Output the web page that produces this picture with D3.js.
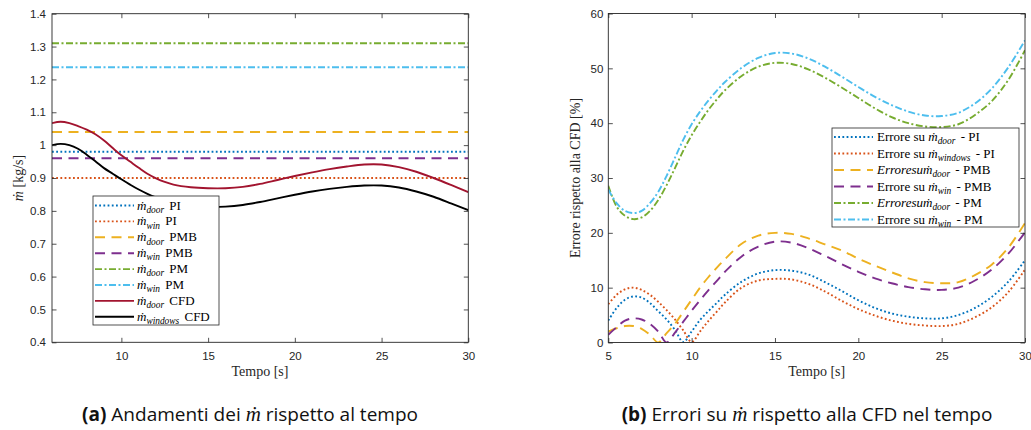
<!DOCTYPE html>
<html>
<head>
<meta charset="utf-8">
<script src="https://cdn.jsdelivr.net/npm/d3@7"></script>
<style>
  html, body { margin: 0; padding: 0; background: #fff; }
  svg { display: block; }
  text { white-space: pre; }
</style>
</head>
<body>
<svg id="fig" width="1031" height="430"></svg>
<script>
// ---------- panel (a): mass flow rates [kg/s] over time [s] ----------
const tFlow = [6, 6.5, 7, 7.5, 8, 8.5, 9, 9.5, 10, 10.5, 11, 11.5, 12, 12.5, 13, 14, 15,
               16, 17, 18, 19, 20, 21, 22, 23, 24, 25, 26, 27, 28, 29, 30];
const mDoorCFD = [1.067, 1.071, 1.067, 1.058, 1.047, 1.033, 1.014, 0.991, 0.969, 0.950, 0.931,
                  0.913, 0.899, 0.888, 0.880, 0.872, 0.869, 0.869, 0.873, 0.882, 0.894, 0.906,
                  0.917, 0.927, 0.935, 0.941, 0.941, 0.933, 0.919, 0.900, 0.879, 0.857];
const mWinCFD = [1.000, 1.004, 1.000, 0.989, 0.971, 0.951, 0.930, 0.913, 0.896, 0.880, 0.865,
                 0.852, 0.841, 0.832, 0.825, 0.816, 0.812, 0.813, 0.818, 0.827, 0.838, 0.849,
                 0.859, 0.867, 0.873, 0.877, 0.877, 0.871, 0.859, 0.843, 0.823, 0.802];
// constant model predictions
const mDoorPI = 0.98, mWinPI = 0.90;
const mDoorPMB = 1.04, mWinPMB = 0.96;
const mDoorPM = 1.31, mWinPM = 1.237;
const flowTicksX = [10, 15, 20, 25, 30];
const flowTicksY = [0.4, 0.5, 0.6, 0.7, 0.8, 0.9, 1, 1.1, 1.2, 1.3, 1.4];

// ---------- panel (b): relative error vs CFD [%] over time [s] ----------
const tErr = [5, 5.5, 6, 6.5, 7, 7.5, 8, 8.5, 9, 9.5, 10, 10.5, 11, 11.5, 12, 13, 14, 15,
              16, 17, 18, 19, 20, 21, 22, 23, 24, 25, 26, 27, 28, 29, 30];
const errDoorPI = [4.0, 6.3, 7.8, 8.4, 8.2, 7.2, 5.7, 4.2, 2.3, 0.1, 2.0, 4.1, 5.7, 7.2, 8.7,
                   11.1, 12.6, 13.2, 13.1, 12.4, 11.0, 9.4, 7.7, 6.3, 5.3, 4.7, 4.4, 4.4, 5.0,
                   6.3, 8.3, 11.1, 15.0];
const errWinPI = [7.0, 8.7, 9.7, 10.0, 9.6, 8.7, 7.4, 5.9, 4.2, 2.2, 0.1, 2.0, 3.9, 5.6, 7.3,
                  10.0, 11.3, 11.6, 11.5, 10.7, 9.3, 7.6, 6.1, 4.9, 4.0, 3.4, 3.1, 3.0, 3.4,
                  4.6, 6.4, 9.2, 13.3];
const errDoorPMB = [2.0, 2.6, 3.0, 3.0, 2.5, 1.4, 0.0, 1.7, 3.4, 5.6, 7.8, 10.0, 11.9, 13.6,
                    15.2, 18.0, 19.5, 20.0, 19.8, 19.0, 17.9, 16.8, 15.3, 14.0, 12.8, 11.7,
                    11.0, 10.8, 11.0, 12.3, 14.2, 17.3, 21.8];
const errWinPMB = [1.4, 2.8, 4.0, 4.4, 4.2, 3.4, 2.0, 0.0, 1.8, 3.8, 5.8, 7.7, 9.5, 11.2, 12.9,
                   15.7, 17.5, 18.4, 18.2, 17.2, 15.8, 14.3, 12.9, 11.7, 10.8, 10.1, 9.7, 9.6,
                   10.0, 11.3, 13.3, 16.2, 20.1];
const errDoorPM = [28.6, 24.8, 23.1, 22.5, 22.8, 24.0, 26.0, 28.7, 31.8, 35.0, 37.8, 40.2, 42.4,
                   44.3, 46.0, 48.6, 50.3, 51.0, 50.8, 49.8, 48.3, 46.5, 44.6, 42.7, 41.1, 40.0,
                   39.4, 39.3, 39.8, 41.5, 44.0, 47.9, 53.3];
const errWinPM = [27.9, 25.4, 24.0, 23.6, 24.0, 25.4, 27.5, 30.4, 33.7, 37.0, 39.8, 42.1, 44.1,
                  45.9, 47.5, 50.1, 51.9, 52.8, 52.7, 51.8, 50.3, 48.5, 46.6, 44.8, 43.3, 42.1,
                  41.4, 41.3, 41.9, 43.6, 46.3, 50.2, 55.1];
const errTicksX = [5, 10, 15, 20, 25, 30];
const errTicksY = [0, 10, 20, 30, 40, 50, 60];

// ---------- legend labels (math parts: dotted m, subscripts) ----------
const M = { t: "\u1E41", i: true };
const sub = s => ({ t: s, i: true, sub: true });
const flowLabels = [
  [M, sub("door"), { t: " PI" }],
  [M, sub("win"), { t: " PI" }],
  [M, sub("door"), { t: " PMB" }],
  [M, sub("win"), { t: " PMB" }],
  [M, sub("door"), { t: " PM" }],
  [M, sub("win"), { t: " PM" }],
  [M, sub("door"), { t: " CFD" }],
  [M, sub("windows"), { t: " CFD" }]
];
const errLabels = [
  [{ t: "Errore su " }, M, sub("door"), { t: " - PI" }],
  [{ t: "Errore su " }, M, sub("windows"), { t: " - PI" }],
  [{ t: "Erroresu", i: true }, M, sub("door"), { t: " - PMB" }],
  [{ t: "Errore su " }, M, sub("win"), { t: " - PMB" }],
  [{ t: "Erroresu", i: true }, M, sub("door"), { t: " - PM" }],
  [{ t: "Errore su " }, M, sub("win"), { t: " - PM" }]
];

// ---------- styles ----------
const C = { blue: "#0072BD", orange: "#D95319", yellow: "#EDB120", purple: "#7E2F8E",
            green: "#77AC30", cyan: "#4DBEEE", red: "#A2142F", black: "#000000" };
const DOT = "1.8,2.4", DASH = "10,6.5", DASHDOT = "7,2.5,2,2.5";
const LW = 1.9;
const AX = "#262626";
const SERIF = "'Liberation Serif','DejaVu Serif',serif";
const SANS = "'Liberation Sans',Arial,sans-serif";
const CAPTION = "'Open Sans','Noto Sans',sans-serif";

const svg = d3.select("#fig");

function drawFrame(g, x, y, ticksX, ticksY, fmtY, padY) {
  const [x0, x1] = x.range(), [y0, y1] = y.range();
  const styleAxis = a => {
    a.select(".domain").remove();
    a.selectAll(".tick line").attr("stroke", AX).attr("stroke-width", 0.8);
    a.selectAll(".tick text").attr("fill", AX).attr("font-family", SANS).attr("font-size", 11.5);
  };
  g.append("g").attr("transform", `translate(0,${y0})`)
    .call(d3.axisBottom(x).tickValues(ticksX).tickSize(-4.5).tickPadding(9.5).tickFormat(d3.format("d")))
    .call(styleAxis);
  g.append("g").attr("transform", `translate(0,${y1})`)
    .call(d3.axisTop(x).tickValues(ticksX).tickSize(-4.5).tickFormat(""))
    .call(styleAxis);
  g.append("g").attr("transform", `translate(${x0},0)`)
    .call(d3.axisLeft(y).tickValues(ticksY).tickSize(-4.5).tickPadding(padY).tickFormat(fmtY))
    .call(styleAxis);
  g.append("g").attr("transform", `translate(${x1},0)`)
    .call(d3.axisRight(y).tickValues(ticksY).tickSize(-4.5).tickFormat(""))
    .call(styleAxis);
  g.append("rect")
    .attr("x", x0).attr("y", y1).attr("width", x1 - x0).attr("height", y0 - y1)
    .attr("fill", "none").attr("stroke", AX).attr("stroke-width", 0.9);
}

// subscripted math runs, with a small TeX-like gap after a subscript
function mathText(sel, parts, size, subSize) {
  let shift = 0;
  parts.forEach(p => {
    const ts = sel.append("tspan").text(p.t);
    if (p.i) ts.attr("font-style", "italic");
    const target = p.sub ? 3.2 : 0;
    if (target !== shift) {
      ts.attr("dy", target - shift);
      if (!p.sub) ts.attr("dx", 2);
      shift = target;
    }
    if (p.sub) ts.attr("font-size", subSize);
  });
}

function drawLegend(g, items, box, rowY, rowH, lineX0, lineX1, textX, fs, fsSub) {
  const lg = g.append("g");
  lg.append("rect").attr("x", box.x).attr("y", box.y).attr("width", box.w).attr("height", box.h)
    .attr("fill", "#fff").attr("stroke", AX).attr("stroke-width", 0.8);
  items.forEach((it, i) => {
    const yy = rowY + i * rowH;
    lg.append("line").attr("x1", lineX0).attr("x2", lineX1).attr("y1", yy).attr("y2", yy)
      .attr("stroke", it.color).attr("stroke-width", LW).attr("stroke-dasharray", it.dash);
    const t = lg.append("text").attr("x", textX).attr("y", yy + 4)
      .attr("font-family", SERIF).attr("font-size", fs).attr("fill", "#000");
    mathText(t, it.label, fs, fsSub);
  });
}

// ================= panel (a) =================
const xF = d3.scaleLinear().domain([6, 30]).range([52, 468.3]);
const yF = d3.scaleLinear().domain([0.4, 1.4]).range([342.3, 13.7]);
const gA = svg.append("g");
gA.append("clipPath").attr("id", "clipA").append("rect")
  .attr("x", 52).attr("y", 13.7).attr("width", 416.3).attr("height", 328.6);

const tSpanF = d3.extent(tFlow);
const flowSeries = [
  { vals: tSpanF.map(t => [t, mDoorPI]), color: C.blue, dash: DOT },
  { vals: tSpanF.map(t => [t, mWinPI]), color: C.orange, dash: DOT },
  { vals: tSpanF.map(t => [t, mDoorPMB]), color: C.yellow, dash: DASH },
  { vals: tSpanF.map(t => [t, mWinPMB]), color: C.purple, dash: DASH },
  { vals: tSpanF.map(t => [t, mDoorPM]), color: C.green, dash: DASHDOT },
  { vals: tSpanF.map(t => [t, mWinPM]), color: C.cyan, dash: DASHDOT },
  { vals: tFlow.map((t, i) => [t, mDoorCFD[i]]), color: C.red, dash: null },
  { vals: tFlow.map((t, i) => [t, mWinCFD[i]]), color: C.black, dash: null }
];
flowSeries.forEach((s, i) => s.label = flowLabels[i]);

const lineF = d3.line().x(d => xF(d[0])).y(d => yF(d[1])).curve(d3.curveCatmullRom.alpha(0.5));
const plotA = gA.append("g").attr("clip-path", "url(#clipA)");
flowSeries.forEach(s => {
  plotA.append("path").attr("d", lineF(s.vals)).attr("fill", "none")
    .attr("stroke", s.color).attr("stroke-width", LW).attr("stroke-dasharray", s.dash);
});
drawFrame(gA, xF, yF, flowTicksX, flowTicksY, d => String(d), 6);
drawLegend(gA, flowSeries, { x: 93, y: 196, w: 126, h: 129 }, 205.5, 15.9, 95, 134, 137, 13, 9.4);

// axis titles (a)
gA.append("text").attr("x", 260).attr("y", 376).attr("text-anchor", "middle")
  .attr("font-family", SERIF).attr("font-size", 14).attr("fill", AX).text("Tempo [s]");
const yTitleA = gA.append("text").attr("transform", "translate(23,178) rotate(-90)")
  .attr("text-anchor", "middle").attr("font-family", SERIF).attr("font-size", 14).attr("fill", AX);
mathText(yTitleA, [M, { t: " [kg/s]" }], 14, 9.5);

// ================= panel (b) =================
const xE = d3.scaleLinear().domain([5, 30]).range([608.3, 1025]);
const yE = d3.scaleLinear().domain([0, 60]).range([342.5, 13.5]);
const gB = svg.append("g");
gB.append("clipPath").attr("id", "clipB").append("rect")
  .attr("x", 608.3).attr("y", 13.5).attr("width", 416.7).attr("height", 329);

const errSeries = [
  { v: errDoorPI, color: C.blue, dash: DOT },
  { v: errWinPI, color: C.orange, dash: DOT },
  { v: errDoorPMB, color: C.yellow, dash: DASH },
  { v: errWinPMB, color: C.purple, dash: DASH },
  { v: errDoorPM, color: C.green, dash: DASHDOT },
  { v: errWinPM, color: C.cyan, dash: DASHDOT }
];
errSeries.forEach((s, i) => s.label = errLabels[i]);

const lineE = d3.line().x((d, i) => xE(tErr[i])).y(d => yE(d)).curve(d3.curveCatmullRom.alpha(0.5));
const plotB = gB.append("g").attr("clip-path", "url(#clipB)");
errSeries.forEach(s => {
  plotB.append("path").attr("d", lineE(s.v)).attr("fill", "none")
    .attr("stroke", s.color).attr("stroke-width", LW).attr("stroke-dasharray", s.dash);
});
drawFrame(gB, xE, yE, errTicksX, errTicksY, d3.format("d"), 5);
drawLegend(gB, errSeries, { x: 832, y: 128, w: 187, h: 99 }, 137, 16.5, 834, 873, 877, 13, 9.4);

gB.append("text").attr("x", 816.7).attr("y", 376).attr("text-anchor", "middle")
  .attr("font-family", SERIF).attr("font-size", 14).attr("fill", AX).text("Tempo [s]");
gB.append("text").attr("transform", "translate(580,178) rotate(-90)")
  .attr("text-anchor", "middle").attr("font-family", SERIF).attr("font-size", 14).attr("fill", AX)
  .text("Errore rispetto alla CFD [%]");

// ================= captions =================
function caption(x, parts) {
  const t = svg.append("text").attr("x", x).attr("y", 421).attr("text-anchor", "middle")
    .attr("font-family", CAPTION).attr("font-size", 19).attr("fill", "#111");
  parts.forEach(p => {
    const ts = t.append("tspan").text(p.t);
    if (p.b) ts.attr("font-weight", "bold");
    if (p.m) ts.attr("font-family", SERIF).attr("font-style", "italic").attr("font-size", 21);
  });
}
caption(250, [{ t: "(a)", b: true }, { t: " Andamenti dei " }, { t: "\u1E41", m: true }, { t: " rispetto al tempo" }]);
caption(807, [{ t: "(b)", b: true }, { t: " Errori su " }, { t: "\u1E41", m: true }, { t: " rispetto alla CFD nel tempo" }]);
</script>
</body>
</html>
